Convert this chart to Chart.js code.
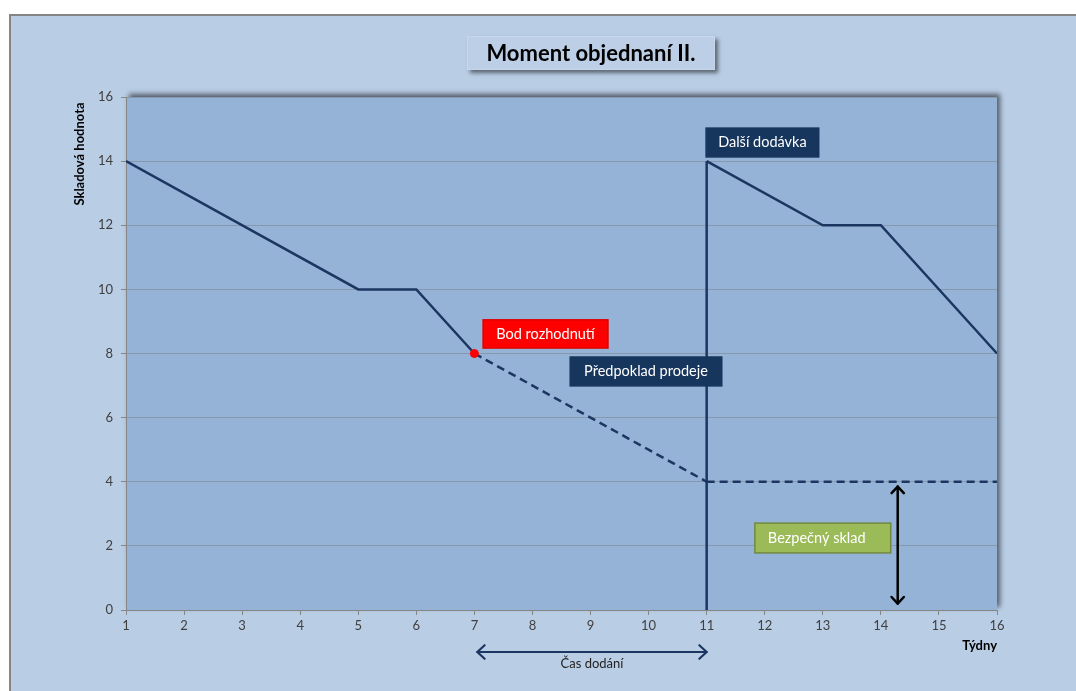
<!DOCTYPE html>
<html>
<head>
<meta charset="utf-8">
<script src="https://cdn.jsdelivr.net/npm/chart.js@4"></script>
<style>
  html, body { margin:0; padding:0; background:#ffffff; width:1076px; height:691px; overflow:hidden; }
  #wrap { position:absolute; left:9px; top:14px; width:1065px; height:675px;
          background:#b9cde5; border-left:2px solid #858585; border-top:2px solid #858585; }
  canvas { display:block; }
</style>
</head>
<body>
<div id="wrap"><canvas id="c" width="1065" height="675"></canvas></div>
<script>
// ---- data ----
const titleText = 'Moment objednaní II.';
const yAxisTitle = 'Skladová hodnota';
const xAxisTitle = 'Týdny';
const xTicks = [1,2,3,4,5,6,7,8,9,10,11,12,13,14,15,16];
const yTicks = [0,2,4,6,8,10,12,14,16];

const weeksA = [1, 5, 6, 7];
const stockA = [14, 10, 10, 8];
const weeksForecast = [7, 11];
const stockForecast = [8, 4];
const weeksDelivery = [11, 11];
const stockDelivery = [0, 14];
const weeksB = [11, 13, 14, 16];
const stockB = [14, 12, 12, 8];
const weeksSafety = [11, 16];
const stockSafety = [4, 4];
const weeksDecision = [7];
const stockDecision = [8];

const labelTexts = ['Bod rozhodnutí', 'Předpoklad prodeje', 'Další dodávka', 'Bezpečný sklad'];
const leadTimeText = 'Čas dodání';

// ---- build ----
const pts = (xs, ys) => xs.map((x, i) => ({x, y: ys[i]}));
const NAVY = '#1b3660';
const FONT = 'Lato, "Open Sans", sans-serif';

const labelBoxes = [
  {text: labelTexts[0], x1: 7.15, x2: 9.30, y1: 9.05, y2: 8.17, fill: '#ff0000', stroke: '#e00000', align: 'center'},
  {text: labelTexts[1], x1: 8.65, x2: 11.26, y1: 7.89, y2: 6.99, fill: '#17365d', stroke: '#17365d', align: 'center'},
  {text: labelTexts[2], x1: 10.99, x2: 12.93, y1: 15.03, y2: 14.13, fill: '#17365d', stroke: '#17365d', align: 'center'},
  {text: labelTexts[3], x1: 11.83, x2: 14.17, y1: 2.71, y2: 1.78, fill: '#9bbb59', stroke: '#71893f', align: 'left'}
];

function arrowHead(ctx, x, y, ang, size) {
  ctx.beginPath();
  ctx.moveTo(x + size * Math.cos(ang + 0.75), y + size * Math.sin(ang + 0.75));
  ctx.lineTo(x, y);
  ctx.lineTo(x + size * Math.cos(ang - 0.75), y + size * Math.sin(ang - 0.75));
  ctx.stroke();
}
function doubleArrow(ctx, x1, y1, x2, y2, color, w, size) {
  ctx.save();
  ctx.strokeStyle = color; ctx.lineWidth = w; ctx.lineCap = 'round'; ctx.lineJoin = 'round';
  ctx.beginPath(); ctx.moveTo(x1, y1); ctx.lineTo(x2, y2); ctx.stroke();
  const a = Math.atan2(y2 - y1, x2 - x1);
  arrowHead(ctx, x1, y1, a, size);
  arrowHead(ctx, x2, y2, a + Math.PI, size);
  ctx.restore();
}

const decor = {
  id: 'decor',
  beforeDraw(chart) {
    const {ctx, chartArea: a} = chart;
    ctx.save();
    ctx.shadowColor = 'rgba(0,0,0,0.55)';
    ctx.shadowBlur = 5;
    ctx.shadowOffsetX = 3;
    ctx.shadowOffsetY = -3;
    ctx.fillStyle = '#95b3d7';
    ctx.fillRect(a.left, a.top, a.right - a.left, a.bottom - a.top);
    ctx.restore();
    ctx.save();
    ctx.fillStyle = '#95b3d7';
    ctx.fillRect(a.left, a.top, a.right - a.left, a.bottom - a.top);
    ctx.restore();

    // title box
    ctx.save();
    ctx.font = 'bold 22px ' + FONT;
    const cx = 580, bw = 248, bh = 34, by = 20;
    ctx.shadowColor = 'rgba(0,0,0,0.5)';
    ctx.shadowBlur = 4; ctx.shadowOffsetX = 3; ctx.shadowOffsetY = 3;
    ctx.fillStyle = '#bccfe6';
    ctx.fillRect(cx - bw / 2, by, bw, bh);
    ctx.shadowColor = 'transparent';
    ctx.strokeStyle = '#c8d6ea'; ctx.lineWidth = 1;
    ctx.strokeRect(cx - bw / 2 + 0.5, by + 0.5, bw - 1, bh - 1);
    ctx.fillStyle = '#000000';
    ctx.textAlign = 'center'; ctx.textBaseline = 'middle';
    ctx.fillText(titleText, cx, by + bh / 2 + 1);
    ctx.restore();

    // y axis title
    ctx.save();
    ctx.translate(69, 138);
    ctx.rotate(-Math.PI / 2);
    ctx.font = 'bold 13px ' + FONT;
    ctx.fillStyle = '#000000';
    ctx.textAlign = 'center'; ctx.textBaseline = 'middle';
    ctx.fillText(yAxisTitle, 0, 0);
    ctx.restore();
  },
  afterDatasetsDraw(chart) {
    const {ctx, scales: {x, y}, chartArea: a} = chart;
    labelBoxes.forEach(b => {
      const L = x.getPixelForValue(b.x1), R = x.getPixelForValue(b.x2);
      const T = y.getPixelForValue(b.y1), B = y.getPixelForValue(b.y2);
      ctx.save();
      ctx.fillStyle = b.fill;
      ctx.fillRect(L, T, R - L, B - T);
      ctx.strokeStyle = b.stroke; ctx.lineWidth = 1.5;
      ctx.strokeRect(L, T, R - L, B - T);
      ctx.fillStyle = '#ffffff';
      ctx.font = '14.5px ' + FONT;
      ctx.textBaseline = 'middle';
      if (b.align === 'center') { ctx.textAlign = 'center'; ctx.fillText(b.text, (L + R) / 2, (T + B) / 2); }
      else { ctx.textAlign = 'left'; ctx.fillText(b.text, L + 13, (T + B) / 2); }
      ctx.restore();
    });
    doubleArrow(ctx, x.getPixelForValue(14.29), y.getPixelForValue(3.85),
                x.getPixelForValue(14.29), y.getPixelForValue(0.2), '#000000', 2.5, 9);
    const ay = a.bottom + 42;
    doubleArrow(ctx, x.getPixelForValue(7.05), ay, x.getPixelForValue(11.0), ay, NAVY, 2.2, 10);
    ctx.save();
    ctx.font = '13px ' + FONT;
    ctx.fillStyle = '#222222';
    ctx.textAlign = 'center'; ctx.textBaseline = 'middle';
    ctx.fillText(leadTimeText, (x.getPixelForValue(7.05) + x.getPixelForValue(11)) / 2, ay + 12);
    ctx.font = 'bold 13px ' + FONT;
    ctx.fillStyle = '#000000';
    ctx.textAlign = 'right';
    ctx.fillText(xAxisTitle, a.right, a.bottom + 36);
    ctx.restore();
  }
};

const lineDs = (xs, ys, dash) => ({
  data: pts(xs, ys), borderColor: NAVY, borderWidth: 2.5, borderDash: dash || [],
  pointRadius: 0, fill: false, tension: 0, showLine: true
});

new Chart(document.getElementById('c'), {
  type: 'scatter',
  data: {
    datasets: [
      {data: pts(weeksDecision, stockDecision), pointRadius: 4, pointBackgroundColor: '#ff0000',
       pointBorderColor: '#ff0000', showLine: false},
      lineDs(weeksA, stockA),
      lineDs(weeksForecast, stockForecast, [8, 5]),
      lineDs(weeksDelivery, stockDelivery),
      lineDs(weeksB, stockB),
      lineDs(weeksSafety, stockSafety, [8, 5])
    ]
  },
  options: {
    responsive: false, animation: false,
    layout: {padding: {left: 0, top: 81, right: 79, bottom: 51}},
    plugins: {legend: {display: false}, tooltip: {enabled: false}, title: {display: false}},
    scales: {
      x: {
        type: 'linear', min: 1, max: 16,
        afterFit: s => { s.height = 30; },
        afterBuildTicks: s => { s.ticks = xTicks.map(v => ({value: v})); },
        grid: {drawOnChartArea: false, drawTicks: true, tickLength: 5, color: '#868686'},
        border: {color: '#868686', width: 1},
        ticks: {font: {family: FONT, size: 13}, color: '#404040', padding: 3, autoSkip: false, maxRotation: 0}
      },
      y: {
        min: 0, max: 16,
        afterFit: s => { s.width = 115; },
        afterBuildTicks: s => { s.ticks = yTicks.map(v => ({value: v})); },
        grid: {color: '#8797ae', lineWidth: 1, drawTicks: true, tickLength: 5, tickColor: '#868686'},
        border: {color: '#868686', width: 1},
        ticks: {font: {family: FONT, size: 13}, color: '#404040', padding: 8}
      }
    }
  },
  plugins: [decor]
});
</script>
</body>
</html>
